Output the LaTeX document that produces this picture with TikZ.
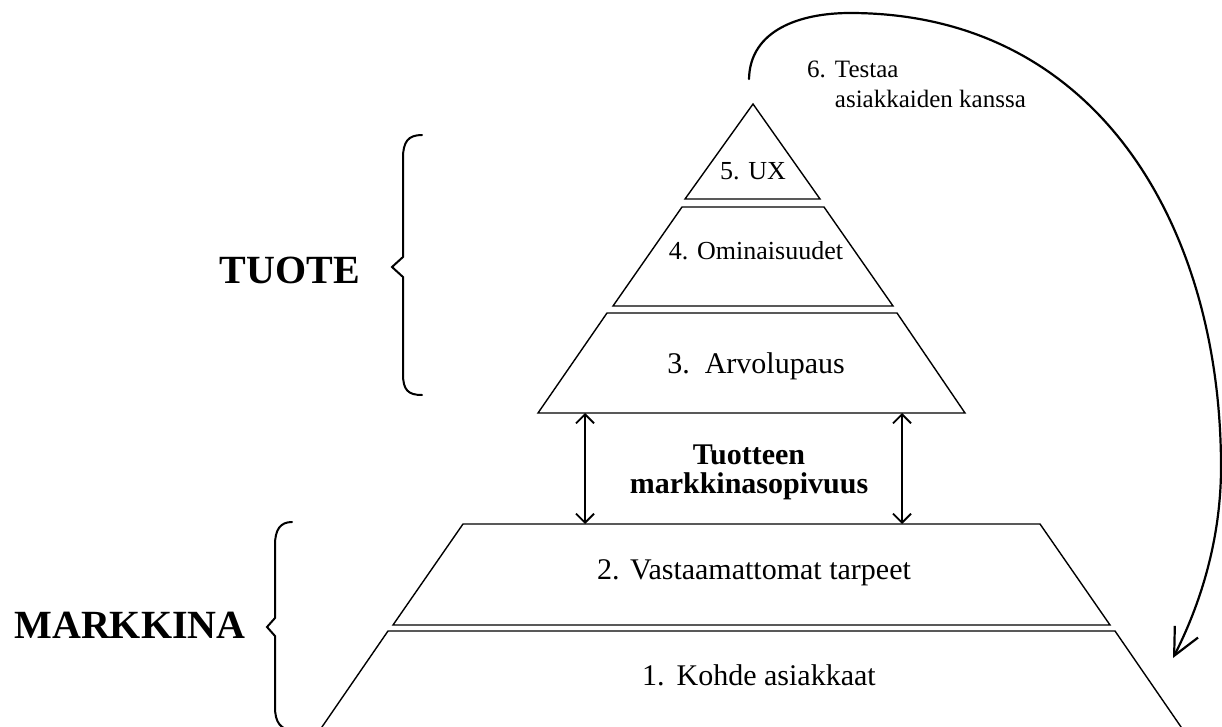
\documentclass[tikz,border=0pt]{standalone}
\usepackage{fontspec}
\setmainfont{Liberation Serif}
\usetikzlibrary{arrows.meta}
\begin{document}
\begin{tikzpicture}[x=1pt,y=-1pt,
  layer/.style={draw=black, line width=1.4pt, line join=miter},
  layertext/.style={anchor=base, inner sep=0pt, font=\fontsize{30}{36}\selectfont},
  smalltext/.style={anchor=base, inner sep=0pt, font=\fontsize{26}{30}\selectfont},
  heading/.style={anchor=base, inner sep=0pt, font=\fontsize{40}{44}\selectfont\bfseries},
  bracepath/.style={line width=2pt, line cap=round, line join=miter},
  fitarrow/.style={line width=1.8pt, {Straight Barb[length=9pt,width=18pt]}-{Straight Barb[length=9pt,width=18pt]}},
  looparrow/.style={line width=2.2pt, line cap=round, -{Straight Barb[length=27pt,width=26pt]}},
]
\useasboundingbox (0,0) rectangle (1222,727);
\clip (0,0) rectangle (1222,727);

% pyramid layers, bottom to top
\coordinate (L1tl) at (388,631); \coordinate (L1tr) at (1115,631);
\coordinate (L1bl) at (313,740); \coordinate (L1br) at (1190,740);
\coordinate (L2tl) at (463,524); \coordinate (L2tr) at (1040,524);
\coordinate (L2bl) at (393,625); \coordinate (L2br) at (1110,625);
\coordinate (L3tl) at (607,313); \coordinate (L3tr) at (897,313);
\coordinate (L3bl) at (538,413); \coordinate (L3br) at (965,413);
\coordinate (L4tl) at (682,207); \coordinate (L4tr) at (824,207);
\coordinate (L4bl) at (613,306); \coordinate (L4br) at (893,306);
\coordinate (L5top) at (753,104);
\coordinate (L5bl) at (685,199); \coordinate (L5br) at (820,199);

\draw[layer] (L1tl) -- (L1tr) -- (L1br) -- (L1bl) -- cycle;
\draw[layer] (L2tl) -- (L2tr) -- (L2br) -- (L2bl) -- cycle;
\draw[layer] (L3tl) -- (L3tr) -- (L3br) -- (L3bl) -- cycle;
\draw[layer] (L4tl) -- (L4tr) -- (L4br) -- (L4bl) -- cycle;
\draw[layer] (L5top) -- (L5br) -- (L5bl) -- cycle;

\node[layertext] (t1) at (759,685) {1.\hspace{0.4em}Kohde asiakkaat};
\node[layertext] (t2) at (754,579) {2.\hspace{0.35em}Vastaamattomat tarpeet};
\node[layertext] (t3) at (756,373) {3.\hspace{0.5em}Arvolupaus};
\node[smalltext] (t4) at (756,259) {4. Ominaisuudet};
\node[smalltext] (t5) at (753,180) {5. UX};

% product/market fit
\node[anchor=base, inner sep=0pt, font=\fontsize{30}{30}\selectfont\bfseries] (fit) at (749,464)
  {\begin{tabular}[t]{@{}c@{}}Tuotteen\\[-1pt] markkinasopivuus\end{tabular}};
\coordinate (fitAtop) at (585,413); \coordinate (fitAbot) at (585,524);
\coordinate (fitBtop) at (902,413); \coordinate (fitBbot) at (902,524);
\draw[fitarrow] (fitAtop) -- (fitAbot);
\draw[fitarrow] (fitBtop) -- (fitBbot);

% test loop
\node[anchor=base west, inner sep=0pt, font=\fontsize{25}{30}\selectfont] (t6) at (807,78)
  {\begin{tabular}[t]{@{}l@{\hspace{9pt}}l@{}}6. & Testaa\\ & asiakkaiden kanssa\end{tabular}};
\coordinate (loopstart) at (749,79);
\coordinate (looppeak) at (850,13);
\coordinate (loopright) at (1221,467);
\coordinate (loopend) at (1173,658);
\draw[looparrow] (loopstart) .. controls (750,30) and (800,13) .. (looppeak)
  .. controls (1100,13) and (1221,230) .. (loopright)
  .. controls (1221,540) and (1200,605) .. (loopend);

% braces and group headings
\draw[bracepath] (422,135) .. controls (408,135) and (403,142) .. (403,158)
  -- (403,257) -- (392,267) -- (403,277) -- (403,374)
  .. controls (403,390) and (408,395) .. (422,395);
\node[heading] (tuote) at (290,283) {TUOTE};

\draw[bracepath] (292,522) .. controls (280,522) and (275,530) .. (275,545)
  -- (275,618) -- (267,627) -- (275,636) -- (275,707)
  .. controls (275,722) and (280,730) .. (295,731);
\node[heading] (markkina) at (130,638) {MARKKINA};
\end{tikzpicture}
\end{document}
